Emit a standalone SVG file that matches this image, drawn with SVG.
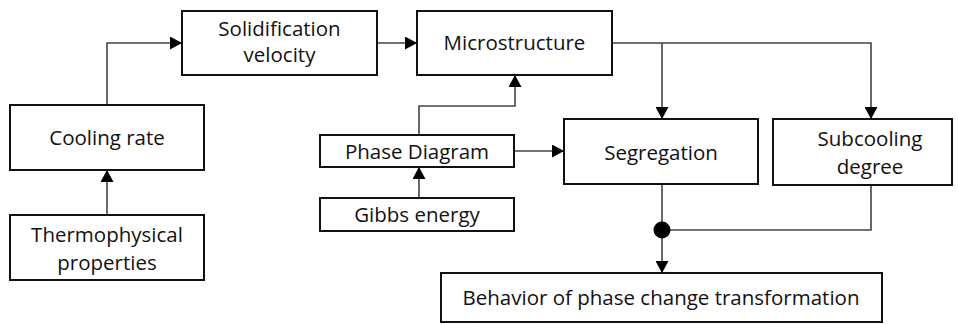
<svg xmlns="http://www.w3.org/2000/svg" width="958" height="324" viewBox="0 0 958 324">
<defs>
<style>
.box{fill:#fff;stroke:#111;stroke-width:2}
.t{font-family:"Open Sans","Noto Sans",sans-serif;font-size:20.5px;fill:#111;text-anchor:middle}
.c{fill:none;stroke:#444;stroke-width:1.6}
</style>
<marker id="a" markerWidth="12" markerHeight="13" viewBox="0 0 12 13" refX="12" refY="6.5" orient="auto" markerUnits="userSpaceOnUse">
<path d="M0,0 L12,6.5 L0,13 Z" fill="#000"/>
</marker>
</defs>
<rect width="958" height="324" fill="#fff"/>
<g id="connectors">
<path class="c" d="M107,105 V43 H182" marker-end="url(#a)"/>
<path class="c" d="M377,43 H417" marker-end="url(#a)"/>
<path class="c" d="M419,135 V106 H515 V75" marker-end="url(#a)"/>
<path class="c" d="M612,43 H871 V119" marker-end="url(#a)"/>
<path class="c" d="M662,43 V119" marker-end="url(#a)"/>
<path class="c" d="M514,151 H564" marker-end="url(#a)"/>
<path class="c" d="M419,198 V167" marker-end="url(#a)"/>
<path class="c" d="M107,215 V170" marker-end="url(#a)"/>
<path class="c" d="M662,184 V273" marker-end="url(#a)"/>
<path class="c" d="M871,185 V230 H662"/>
<circle cx="662" cy="230" r="8.5" fill="#000"/>
</g>
<g id="solidification"><rect class="box" x="182" y="11" width="195" height="64"/><text class="t" x="279.5" y="36">Solidification</text><text class="t" x="279.5" y="62">velocity</text></g>
<g id="microstructure"><rect class="box" x="417" y="11" width="195" height="64"/><text class="t" x="514.5" y="50">Microstructure</text></g>
<g id="cooling"><rect class="box" x="10" y="105" width="194" height="65"/><text class="t" x="107" y="145">Cooling rate</text></g>
<g id="thermo"><rect class="box" x="10" y="215" width="194" height="65"/><text class="t" x="107" y="242">Thermophysical</text><text class="t" x="107" y="270">properties</text></g>
<g id="phase"><rect class="box" x="320" y="135" width="194" height="32"/><text class="t" x="417" y="159">Phase Diagram</text></g>
<g id="gibbs"><rect class="box" x="320" y="198" width="194" height="33"/><text class="t" x="417" y="222">Gibbs energy</text></g>
<g id="segregation"><rect class="box" x="564" y="119" width="194" height="65"/><text class="t" x="661" y="160">Segregation</text></g>
<g id="subcooling"><rect class="box" x="773" y="119" width="179" height="66"/><text class="t" x="870" y="146">Subcooling</text><text class="t" x="870" y="174">degree</text></g>
<g id="behavior"><rect class="box" x="441" y="273" width="441" height="49"/><text class="t" x="661" y="305">Behavior of phase change transformation</text></g>
</svg>
